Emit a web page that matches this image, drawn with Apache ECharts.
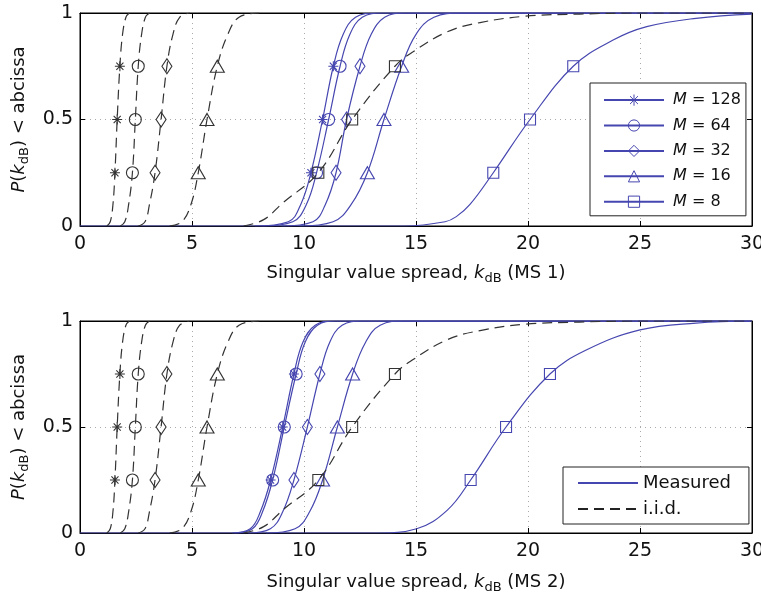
<!DOCTYPE html>
<html><head><meta charset="utf-8">
<script src="https://cdn.jsdelivr.net/npm/echarts@6/dist/echarts.min.js"></script>
<style>html,body{margin:0;padding:0;background:#fff}#c{width:761px;height:595px}</style>
</head><body><div id="c"></div>
<script>
// ---------- data ----------
const xTicks = [0, 5, 10, 15, 20, 25, 30];
const yTicks = [0, 0.5, 1];
const mValues = ['128', '64', '32', '16', '8'];
const markerLevels = [0.25, 0.5, 0.75];
const panelNames = ['MS 1', 'MS 2'];

// i.i.d. CDF curves (identical in both panels): [k_dB, P]
const iid128 = [[1.2,0],[1.35,0.02],[1.47,0.1],[1.56,0.25],[1.66,0.5],[1.78,0.75],[1.9,0.9],[2.05,0.98],[2.2,1]];
const iid64  = [[1.8,0],[2.0,0.02],[2.17,0.1],[2.34,0.25],[2.47,0.5],[2.6,0.75],[2.75,0.9],[2.92,0.98],[3.1,1]];
const iid32  = [[2.6,0],[2.9,0.02],[3.1,0.1],[3.35,0.25],[3.62,0.5],[3.88,0.75],[4.15,0.9],[4.45,0.98],[4.9,1]];
const iid16  = [[4.0,0],[4.55,0.02],[4.95,0.1],[5.28,0.25],[5.67,0.5],[6.13,0.75],[6.6,0.9],[7.1,0.98],[8.0,1]];
const iid8   = [[7.3,0],[8.2,0.03],[9.07,0.11],[10.64,0.25],[12.15,0.5],[14.06,0.75],[14.87,0.818],[16.4,0.912],[17.86,0.955],[19.9,0.985],[22.3,0.995],[25,1],[30,1]];

// Measured, MS 1
const ms1_128 = [[7.8,0],[9.3,0.02],[9.85,0.1],[10.31,0.25],[10.83,0.5],[11.31,0.75],[11.75,0.9],[12.3,0.98],[13.2,1],[30,1]];
const ms1_64  = [[8.1,0],[9.5,0.02],[10.1,0.1],[10.56,0.25],[11.1,0.5],[11.61,0.75],[12.05,0.9],[12.6,0.98],[13.5,1],[30,1]];
const ms1_32  = [[9.0,0],[10.4,0.02],[10.95,0.1],[11.43,0.25],[11.9,0.5],[12.5,0.75],[13.0,0.9],[13.6,0.98],[14.5,1],[30,1]];
const ms1_16  = [[9.8,0],[11.3,0.02],[12.1,0.1],[12.83,0.25],[13.57,0.5],[14.36,0.75],[15.0,0.9],[15.8,0.98],[17.0,1],[30,1]];
const ms1_8   = [[0,0],[14.5,0],[16.3,0.02],[16.8,0.044],[17.4,0.1],[18.45,0.25],[20.09,0.5],[22.02,0.75],[23.8,0.873],[25.3,0.936],[27.5,0.975],[30,0.995]];

// Measured, MS 2
const ms2_128 = [[6.8,0],[7.6,0.02],[8.05,0.1],[8.51,0.25],[9.05,0.5],[9.55,0.75],[9.95,0.9],[10.5,0.98],[11.3,1],[30,1]];
const ms2_64  = [[6.9,0],[7.7,0.02],[8.15,0.1],[8.6,0.25],[9.12,0.5],[9.65,0.75],[10.05,0.9],[10.6,0.98],[11.4,1],[30,1]];
const ms2_32  = [[7.5,0],[8.5,0.02],[9.05,0.1],[9.55,0.25],[10.15,0.5],[10.71,0.75],[11.15,0.9],[11.7,0.98],[12.6,1],[30,1]];
const ms2_16  = [[8.3,0],[9.6,0.02],[10.25,0.1],[10.83,0.25],[11.49,0.5],[12.17,0.75],[12.75,0.9],[13.4,0.98],[14.5,1],[30,1]];
const ms2_8   = [[0,0],[13.3,0],[15.03,0.02],[16.4,0.108],[17.44,0.25],[19.02,0.5],[20.98,0.75],[22.6,0.863],[25,0.958],[27.5,0.99],[30,1]];

const iidCurves = [iid128, iid64, iid32, iid16, iid8];
const ms1Curves = [ms1_128, ms1_64, ms1_32, ms1_16, ms1_8];
const ms2Curves = [ms2_128, ms2_64, ms2_32, ms2_16, ms2_8];

// ---------- styles ----------
const BLUE = '#4646b0';
const BLACK = '#222';
const FONT = '"DejaVu Sans", sans-serif';
const asterisk = 'path://M0,-10L0,10M-10,0L10,0M-7.07,-7.07L7.07,7.07M-7.07,7.07L7.07,-7.07';
const symbols = [asterisk, 'circle', 'diamond', 'triangle', 'rect'];
const symbolSizes = [10, 12, [10, 15], [14, 12], 11];

const grids = [
  {left: 80, top: 13, width: 672, height: 213},
  {left: 80, top: 321, width: 672, height: 212}
];

const richName = {
  i: {fontStyle: 'italic', fontSize: 18, fontFamily: FONT, lineHeight: 24, color: '#111'},
  t: {fontSize: 18, fontFamily: FONT, lineHeight: 24, color: '#111'},
  sub: {fontSize: 13, fontFamily: FONT, lineHeight: 24, verticalAlign: 'bottom', color: '#111'}
};

const xAxes = [], yAxes = [];
grids.forEach((g, gi) => {
  xAxes.push({
    type: 'value', gridIndex: gi, min: xTicks[0], max: xTicks[xTicks.length - 1], interval: 5,
    position: 'bottom',
    axisLine: {show: true, onZero: false, lineStyle: {color: '#000', width: 1}},
    axisTick: {show: true, inside: true, length: 5, lineStyle: {color: '#000'}},
    axisLabel: {fontSize: 19, fontFamily: FONT, color: '#111', margin: 9},
    splitLine: {show: true, lineStyle: {type: [1, 4], color: '#aaa', width: 1}},
    name: '{t|Singular value spread, }{i|k}{sub|dB}{t| (' + panelNames[gi] + ')}',
    nameLocation: 'middle', nameGap: gi === 0 ? 35 : 37,
    nameTextStyle: {rich: richName}
  });
  xAxes.push({
    type: 'value', gridIndex: gi, min: 0, max: 30, interval: 5, position: 'top',
    axisLine: {show: true, onZero: false, lineStyle: {color: '#000', width: 1}},
    axisTick: {show: true, inside: true, length: 5, lineStyle: {color: '#000'}},
    axisLabel: {show: false}, splitLine: {show: false}
  });
  yAxes.push({
    type: 'value', gridIndex: gi, min: yTicks[0], max: yTicks[yTicks.length - 1], interval: 0.5,
    position: 'left',
    axisLine: {show: true, onZero: false, lineStyle: {color: '#000', width: 1}},
    axisTick: {show: true, inside: true, length: 5, lineStyle: {color: '#000'}},
    axisLabel: {fontSize: 19, fontFamily: FONT, color: '#111', margin: 7},
    splitLine: {show: true, lineStyle: {type: [1, 4], color: '#aaa', width: 1}},
    name: '{i|P}{t|(}{i|k}{sub|dB}{t|) < abcissa}',
    nameLocation: 'middle', nameGap: 49, nameRotate: 90,
    nameTextStyle: {rich: richName}
  });
  yAxes.push({
    type: 'value', gridIndex: gi, min: 0, max: 1, interval: 0.5, position: 'right',
    axisLine: {show: true, onZero: false, lineStyle: {color: '#000', width: 1}},
    axisTick: {show: true, inside: true, length: 5, lineStyle: {color: '#000'}},
    axisLabel: {show: false}, splitLine: {show: false}
  });
});

function makeSeries(name, curve, gi, k, color, dashed) {
  return {
    name: name, type: 'line', xAxisIndex: gi * 2, yAxisIndex: gi * 2,
    smooth: 0.4,
    symbol: symbols[k], symbolSize: symbolSizes[k], showSymbol: true, showAllSymbol: true,
    data: curve.map(p => ({value: p, symbol: markerLevels.includes(p[1]) ? symbols[k] : 'none'})),
    lineStyle: {color: color, width: 1.2, type: dashed ? [10, 6] : 'solid'},
    itemStyle: {color: 'none', borderColor: color, borderWidth: 1.1},
    emphasis: {disabled: true},
    z: dashed ? 3 : 2
  };
}

const series = [];
[ms1Curves, ms2Curves].forEach((curves, gi) => {
  curves.forEach((c, k) => {
    series.push(makeSeries(gi === 0 ? 'M = ' + mValues[k] : 'MS2 M = ' + mValues[k], c, gi, k, BLUE, false));
  });
  iidCurves.forEach((c, k) => {
    series.push(makeSeries('iid' + gi + '-' + mValues[k], c, gi, k, '#333', true));
  });
});
// legend-only entries for the lower panel
series.push({name: 'Measured', type: 'line', xAxisIndex: 2, yAxisIndex: 2, data: [], symbol: 'none',
  lineStyle: {color: BLUE, width: 1.2}, itemStyle: {color: 'none', borderColor: 'none', borderWidth: 0}});
series.push({name: 'i.i.d.', type: 'line', xAxisIndex: 2, yAxisIndex: 2, data: [], symbol: 'none',
  lineStyle: {color: BLACK, width: 1.2, type: [10, 6]}, itemStyle: {color: 'none', borderColor: 'none', borderWidth: 0}});

const option = {
  animation: false,
  backgroundColor: '#fff',
  grid: grids.map(g => Object.assign({show: true, borderColor: '#000', borderWidth: 1,
    backgroundColor: 'transparent', containLabel: false, outerBoundsMode: 'none'}, g)),
  xAxis: xAxes,
  yAxis: yAxes,
  legend: [
    {
      data: mValues.map(m => 'M = ' + m), orient: 'vertical', left: 590, top: 83,
      itemWidth: 60, itemHeight: 14, itemGap: 9.2, padding: [9, 5, 6, 13],
      backgroundColor: '#fff', borderColor: '#222', borderWidth: 1, borderRadius: 0,
      itemStyle: {borderWidth: 1},
      formatter: n => '{i|M}' + n.slice(1),
      textStyle: {fontSize: 16, fontFamily: FONT, color: '#111', padding: [0, 0, 0, 4],
        rich: {i: {fontStyle: 'italic', fontSize: 16, fontFamily: FONT, color: '#111'}}},
      selectedMode: false
    },
    {
      data: ['Measured', 'i.i.d.'], orient: 'vertical', left: 563, top: 467,
      itemWidth: 60, itemHeight: 14, itemGap: 8, padding: [7, 18, 6, 14],
      backgroundColor: '#fff', borderColor: '#222', borderWidth: 1, borderRadius: 0,
      textStyle: {fontSize: 18, fontFamily: FONT, color: '#111'},
      selectedMode: false
    }
  ],
  series: series
};
echarts.init(document.getElementById('c')).setOption(option);
</script></body></html>
